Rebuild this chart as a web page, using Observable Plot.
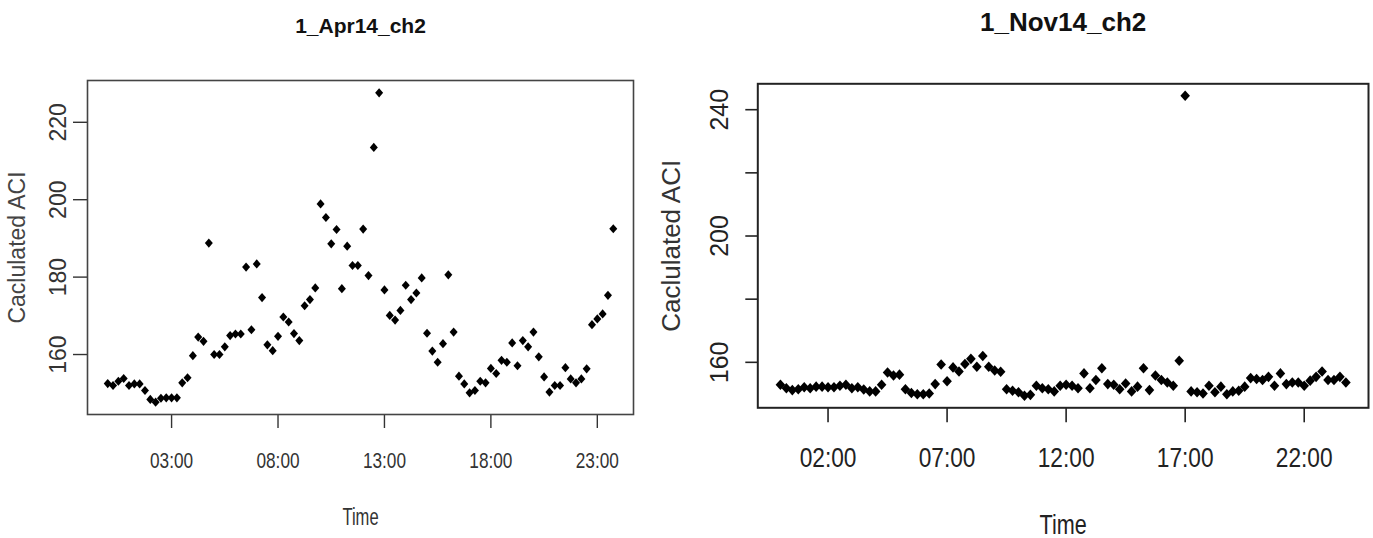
<!DOCTYPE html>
<html><head><meta charset="utf-8">
<script src="https://cdn.jsdelivr.net/npm/d3@7"></script>
<script src="https://cdn.jsdelivr.net/npm/@observablehq/plot@0.6"></script>
<style>
html,body{margin:0;padding:0;background:#fff;}
#root{position:relative;width:1373px;height:538px;overflow:hidden;background:#fff;}
#left{position:absolute;left:0;top:0;}
#right{position:absolute;left:640px;top:0;}
</style></head><body><div id="root"><div id="left"></div><div id="right"></div></div>
<script>
const times = ["00:00","00:15","00:30","00:45","01:00","01:15","01:30","01:45","02:00","02:15","02:30","02:45",
"03:00","03:15","03:30","03:45","04:00","04:15","04:30","04:45","05:00","05:15","05:30","05:45",
"06:00","06:15","06:30","06:45","07:00","07:15","07:30","07:45","08:00","08:15","08:30","08:45",
"09:00","09:15","09:30","09:45","10:00","10:15","10:30","10:45","11:00","11:15","11:30","11:45",
"12:00","12:15","12:30","12:45","13:00","13:15","13:30","13:45","14:00","14:15","14:30","14:45",
"15:00","15:15","15:30","15:45","16:00","16:15","16:30","16:45","17:00","17:15","17:30","17:45",
"18:00","18:15","18:30","18:45","19:00","19:15","19:30","19:45","20:00","20:15","20:30","20:45",
"21:00","21:15","21:30","21:45","22:00","22:15","22:30","22:45","23:00","23:15","23:30","23:45"];

const aprTitle = "1_Apr14_ch2";
const novTitle = "1_Nov14_ch2";
const xLabel = "Time";
const yLabel = "Caclulated ACI";

const aprValues = [152.5,152.0,153.1,153.8,152.0,152.4,152.4,150.7,148.4,147.7,148.7,148.8,
148.8,148.8,152.7,154.0,159.7,164.5,163.4,188.8,160.0,160.0,162.0,164.9,
165.3,165.3,182.6,166.4,183.4,174.7,162.5,161.0,164.7,169.7,168.4,165.4,
163.6,172.6,174.2,177.2,198.9,195.4,188.6,192.3,177.0,188.0,183.0,183.0,
192.4,180.4,213.5,227.6,176.7,170.1,168.9,171.4,177.9,174.2,175.9,179.8,
165.5,160.9,158.0,162.8,180.6,165.8,154.4,152.4,150.1,150.7,153.1,152.7,
156.4,155.1,158.5,158.0,163.0,157.1,163.6,162.0,165.8,159.4,154.2,150.3,
152.0,152.0,156.6,153.7,152.7,153.7,156.3,167.7,169.2,170.5,175.3,192.5];

const novValues = [152.9,151.8,151.2,151.5,152.1,151.8,152.3,152.3,152.1,152.1,152.6,152.9,
151.8,152.1,151.4,150.8,150.8,152.9,156.8,155.8,156.1,151.5,150.3,149.9,
149.9,150.1,153.1,159.3,154.0,158.4,157.1,159.5,161.1,158.6,162.0,158.6,
157.4,157.0,151.5,151.0,150.5,149.4,149.7,152.6,151.8,151.5,150.8,152.6,
152.9,152.6,151.8,156.5,151.8,154.4,158.1,153.1,152.9,151.5,153.3,150.8,
152.3,158.1,151.2,155.8,154.4,153.6,152.6,160.5,244.4,150.8,150.5,150.1,
152.6,150.5,152.3,149.9,150.8,151.0,152.3,155.0,154.7,154.4,155.4,152.6,
156.5,153.1,153.6,153.6,152.6,154.2,155.4,157.1,154.4,154.4,155.4,153.6];

const aprTicksX = ["03:00","08:00","13:00","18:00","23:00"];
const novTicksX = ["02:00","07:00","12:00","17:00","22:00"];
const aprTicksY = [160,180,200,220];
const novTicksY = [160,180,200,220,240];
const novLabelsY = [160,200,240];

const toDate = s => { const [h,m] = s.split(":").map(Number); return new Date(Date.UTC(2014,0,1,h,m)); };
const padExt = ([a,b]) => { const r = b - a; return [a - 0.04*r, b + 0.04*r]; };

const aprData = times.map((t,i) => ({t: toDate(t), v: aprValues[i]}));
const novData = times.map((t,i) => ({t: toDate(t), v: novValues[i]}));

const xExt = padExt(d3.extent(times.map(toDate), d => +d)).map(d => new Date(d));
const fmt = d3.utcFormat("%H:%M");
const SANS = "'Liberation Sans',Arial,sans-serif";

const diamondSym = (ry) => ({ draw(ctx, size) { const r = Math.sqrt(size/Math.PI);
  ctx.moveTo(0,-ry*r); ctx.lineTo(r,0); ctx.lineTo(0,ry*r); ctx.lineTo(-r,0); ctx.closePath(); } });

// horizontally condense horizontal texts (R output looks narrow)
function squeeze(svg, selector, factor) {
  d3.select(svg).selectAll(selector).each(function() {
    const w = this.getComputedTextLength();
    if (w > 0) { this.setAttribute("textLength", (w*factor).toFixed(1)); this.setAttribute("lengthAdjust", "spacingAndGlyphs"); }
  });
}

const left = Plot.plot({
  width: 640, height: 538,
  marginLeft: 87, marginRight: 7, marginTop: 80, marginBottom: 124,
  style: {fontFamily: SANS, background: "white", overflow: "visible"},
  x: {type: "utc", domain: xExt},
  y: {domain: padExt(d3.extent(aprValues))},
  marks: [
    Plot.axisX({ticks: aprTicksX.map(toDate), tickFormat: fmt, tickSize: 14, tickPadding: 24,
      fontSize: 21.5, fontFamily: SANS, color: "#333", strokeWidth: 1.4, label: null}),
    Plot.axisY({ticks: aprTicksY, tickSize: 14, tickPadding: 8, tickRotate: -90,
      fontSize: 23, fontFamily: SANS, color: "#333", strokeWidth: 1.4, label: null}),
    Plot.frame({stroke: "#444", strokeWidth: 1.6}),
    Plot.dot(aprData, {x: "t", y: "v", symbol: diamondSym(1.15), r: 4, fill: "#000", stroke: "none"}),
    Plot.text([aprTitle], {text: d => d, frameAnchor: "top", dy: -48, lineAnchor: "bottom",
      fontSize: 21, fontWeight: "bold", fill: "#111", fontFamily: SANS}),
    Plot.text([yLabel], {text: d => d, frameAnchor: "left", dx: -62.3, rotate: -90,
      textAnchor: "middle", lineAnchor: "bottom", fontSize: 23, fill: "#444", fontFamily: SANS}),
    Plot.text([xLabel], {text: d => d, frameAnchor: "bottom", dy: 110, lineAnchor: "bottom",
      fontSize: 23, fill: "#333", fontFamily: SANS})
  ]
});
document.getElementById("left").appendChild(left);
squeeze(left, 'g[aria-label="x-axis tick label"] text', 0.8);
d3.select(left).selectAll("text").filter(function(){ return this.textContent === xLabel; })
  .each(function(){ const w = this.getComputedTextLength(); this.setAttribute("textLength", (w*0.72).toFixed(1)); this.setAttribute("lengthAdjust","spacingAndGlyphs"); });

const right = Plot.plot({
  width: 733, height: 538,
  marginLeft: 117.3, marginRight: 5, marginTop: 83.3, marginBottom: 130.7,
  style: {fontFamily: SANS, background: "white", overflow: "visible"},
  x: {type: "utc", domain: xExt},
  y: {domain: padExt(d3.extent(novValues))},
  marks: [
    Plot.axisX({ticks: novTicksX.map(toDate), tickFormat: fmt, tickSize: 15, tickPadding: 24,
      fontSize: 28, fontFamily: SANS, color: "#222", strokeWidth: 1.6, label: null}),
    Plot.axisY({ticks: novTicksY, tickFormat: d => novLabelsY.includes(d) ? String(d) : "",
      tickSize: 12, tickPadding: 18, tickRotate: -90,
      fontSize: 25, fontFamily: SANS, color: "#222", strokeWidth: 1.6, label: null}),
    Plot.frame({stroke: "#222", strokeWidth: 2}),
    Plot.dot(novData, {x: "t", y: "v", symbol: diamondSym(1.1), r: 4.8, fill: "#000", stroke: "none"}),
    Plot.text([novTitle], {text: d => d, frameAnchor: "top", dy: -53.3, lineAnchor: "bottom",
      fontSize: 26, fontWeight: "bold", fill: "#111", fontFamily: SANS}),
    Plot.text([yLabel], {text: d => d, frameAnchor: "left", dx: -78.3, rotate: -90,
      textAnchor: "middle", lineAnchor: "bottom", fontSize: 26, fill: "#333", fontFamily: SANS}),
    Plot.text([xLabel], {text: d => d, frameAnchor: "bottom", dy: 125.7, lineAnchor: "bottom",
      fontSize: 27, fill: "#222", fontFamily: SANS})
  ]
});
document.getElementById("right").appendChild(right);
squeeze(right, 'g[aria-label="x-axis tick label"] text', 0.81);
d3.select(right).selectAll("text").filter(function(){ return this.textContent === xLabel; })
  .each(function(){ const w = this.getComputedTextLength(); this.setAttribute("textLength", (w*0.8).toFixed(1)); this.setAttribute("lengthAdjust","spacingAndGlyphs"); });
</script></body></html>
